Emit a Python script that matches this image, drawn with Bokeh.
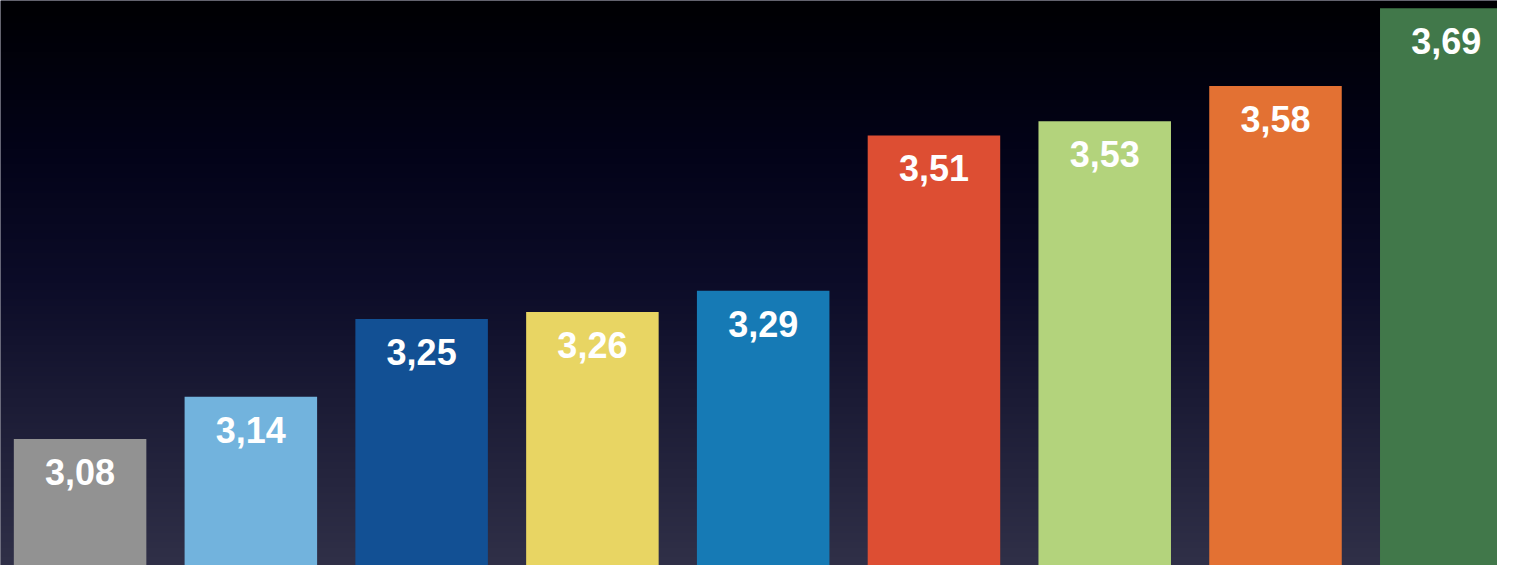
import numpy as np
from bokeh.plotting import figure
from bokeh.models import Range1d, ColumnDataSource
from bokeh.core.properties import value
from bokeh.embed import file_html
from bokeh.resources import INLINE

# data
values = [3.08, 3.14, 3.25, 3.26, 3.29, 3.51, 3.53, 3.58, 3.69]
labels = ["3,08", "3,14", "3,25", "3,26", "3,29", "3,51", "3,53", "3,58", "3,69"]
colors = ["#929292", "#72b3dd", "#125094", "#e8d563", "#167ab5",
          "#dd4e33", "#b3d37c", "#e37133", "#41784a"]

W, H = 1497, 565
y0, y1 = 2.901, 3.701
x0, x1 = -0.466, 8.30

p = figure(width=W, height=H, output_backend="svg", toolbar_location=None,
           x_range=Range1d(x0, x1), y_range=Range1d(y0, y1),
           min_border=0, outline_line_color=None,
           background_fill_color="#0c0c28", border_fill_color="#0c0c28")
p.axis.visible = False
p.grid.visible = False

# background vertical gradient (top black, bottom slate)
n = 256
t = np.linspace(0, 1, n)  # 0 bottom -> 1 top
stops_t = [0.0, 0.31, 0.5, 0.74, 1.0]
stops_c = np.array([[48, 48, 72], [26, 26, 52], [12, 12, 40], [3, 3, 24], [0, 0, 3]], dtype=float)
rgb = np.stack([np.interp(t, stops_t, stops_c[:, k]) for k in range(3)], axis=1)
img = np.zeros((n, 1), dtype=np.uint32)
view = img.view(dtype=np.uint8).reshape((n, 1, 4))
view[:, 0, 0] = rgb[:, 0].astype(np.uint8)
view[:, 0, 1] = rgb[:, 1].astype(np.uint8)
view[:, 0, 2] = rgb[:, 2].astype(np.uint8)
view[:, 0, 3] = 255
p.image_rgba(image=[img], x=x0, y=y0, dw=x1 - x0, dh=y1 - y0)

src = ColumnDataSource(dict(x=list(range(len(values))), top=values,
                            label=labels, color=colors))
p.vbar(x="x", top="top", bottom=y0, width=0.776, fill_color="color",
       line_color=None, source=src)
p.text(x="x", y="top", text="label", source=src, text_align="center",
       text_baseline="alphabetic", y_offset=33, text_color="white",
       text_font=value("Liberation Sans"), text_font_style="bold",
       text_font_size="36px")

open("out.html", "w").write(file_html(p, INLINE))
